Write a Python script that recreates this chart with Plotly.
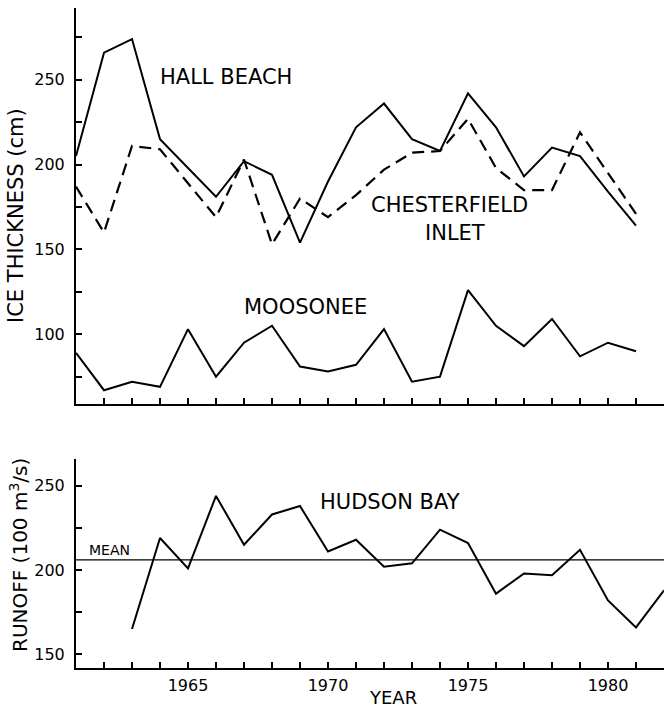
import plotly.graph_objects as go

years = list(range(1961, 1982))
hall_beach = [205, 266, 274, 215, 198, 181, 202, 194, 154, 190, 222, 236, 215, 208, 242, 222, 193, 210, 205, 184, 164]
chesterfield = [187, 160, 211, 209, 189, 169, 203, 153, 180, 169, 182, 197, 207, 208, 227, 198, 185, 185, 219, 195, 171]
moosonee = [89, 67, 72, 69, 103, 75, 95, 105, 81, 78, 82, 103, 72, 75, 126, 105, 93, 109, 87, 95, 90]

runoff_years = list(range(1963, 1983))
runoff = [165, 219, 201, 244, 215, 233, 238, 211, 218, 202, 204, 224, 216, 186, 198, 197, 212, 182, 166, 188]
runoff_mean = 206

ice_tickvals = [100, 150, 200, 250]
runoff_tickvals = [150, 200, 250]
year_tickvals = [1965, 1970, 1975, 1980]

W, H = 664, 708
ML, MR, MT, MB = 76, 0, 8, 40
PW, PH = W - ML - MR, H - MT - MB


def px(x):
    return (x - ML) / PW


def py(y):
    return (H - MB - y) / PH


FONT = "DejaVu Sans"
fig = go.Figure()
line = dict(color="black", width=2)
fig.add_trace(go.Scatter(x=years, y=hall_beach, mode="lines", line=line, xaxis="x", yaxis="y"))
fig.add_trace(go.Scatter(x=years, y=chesterfield, mode="lines",
                         line=dict(color="black", width=2.2, dash="12px,7px"), xaxis="x", yaxis="y"))
fig.add_trace(go.Scatter(x=years, y=moosonee, mode="lines", line=line, xaxis="x", yaxis="y"))
fig.add_trace(go.Scatter(x=runoff_years, y=runoff, mode="lines", line=line, xaxis="x2", yaxis="y2"))

fig.add_shape(type="line", xref="x2 domain", yref="y2", x0=0, x1=1, y0=runoff_mean, y1=runoff_mean,
              line=dict(color="black", width=1.2))

top_bottom = py(404.3)
bot_top = py(459)

axis_common = dict(showline=True, linecolor="black", linewidth=2, showgrid=False, zeroline=False,
                   ticks="inside", tickcolor="black", tickwidth=1.5, ticklen=6,
                   tickfont=dict(family=FONT, size=16, color="black"))

fig.update_layout(
    width=W, height=H,
    margin=dict(l=ML, r=MR, t=MT, b=MB),
    paper_bgcolor="white", plot_bgcolor="white",
    showlegend=False,
    xaxis=dict(domain=[0, 1], range=[1961, 1982], anchor="y", showticklabels=False,
               tickmode="linear", tick0=1961, dtick=1, **axis_common),
    yaxis=dict(domain=[top_bottom, 1], range=[58.7, 292.3], anchor="x",
               tickmode="array", tickvals=ice_tickvals, ticklabelstandoff=6,
               minor=dict(tick0=75, dtick=25, ticks="inside", ticklen=6, tickcolor="black", tickwidth=1.5, showgrid=False),
               **axis_common),
    xaxis2=dict(domain=[0, 1], range=[1961, 1982], anchor="y2",
                tickmode="array", tickvals=year_tickvals, ticklabelstandoff=2,
                minor=dict(tick0=1961, dtick=1, ticks="inside", ticklen=6, tickcolor="black", tickwidth=1.5, showgrid=False),
                **axis_common),
    yaxis2=dict(domain=[0, bot_top], range=[141.9, 265.9], anchor="x2",
                tickmode="array", tickvals=runoff_tickvals, ticklabelstandoff=6,
                minor=dict(tick0=150, dtick=25, ticks="inside", ticklen=6, tickcolor="black", tickwidth=1.5, showgrid=False),
                **axis_common),
)


def label(text, x, y, size=21, angle=0):
    fig.add_annotation(text=text, x=px(x), y=py(y), xref="paper", yref="paper",
                       xanchor="center", yanchor="middle", showarrow=False, textangle=angle,
                       font=dict(family=FONT, size=size, color="black"))


label("HALL BEACH", 226, 77)
label("CHESTERFIELD", 449, 205)
label("INLET", 455, 233)
label("MOOSONEE", 305, 307)
label("HUDSON BAY", 390, 502)
label("MEAN", 109, 550, size=14)
label("YEAR", 393, 697, size=18)
label("ICE THICKNESS (cm)", 16, 216, size=21, angle=-90)
label("RUNOFF (100 m<sup>3</sup>/s)", 19, 555, size=20, angle=-90)

fig.write_html(
    "out.html",
    config={"displayModeBar": False},
    post_script="document.body.style.margin='0';document.body.style.overflow='hidden';",
)
